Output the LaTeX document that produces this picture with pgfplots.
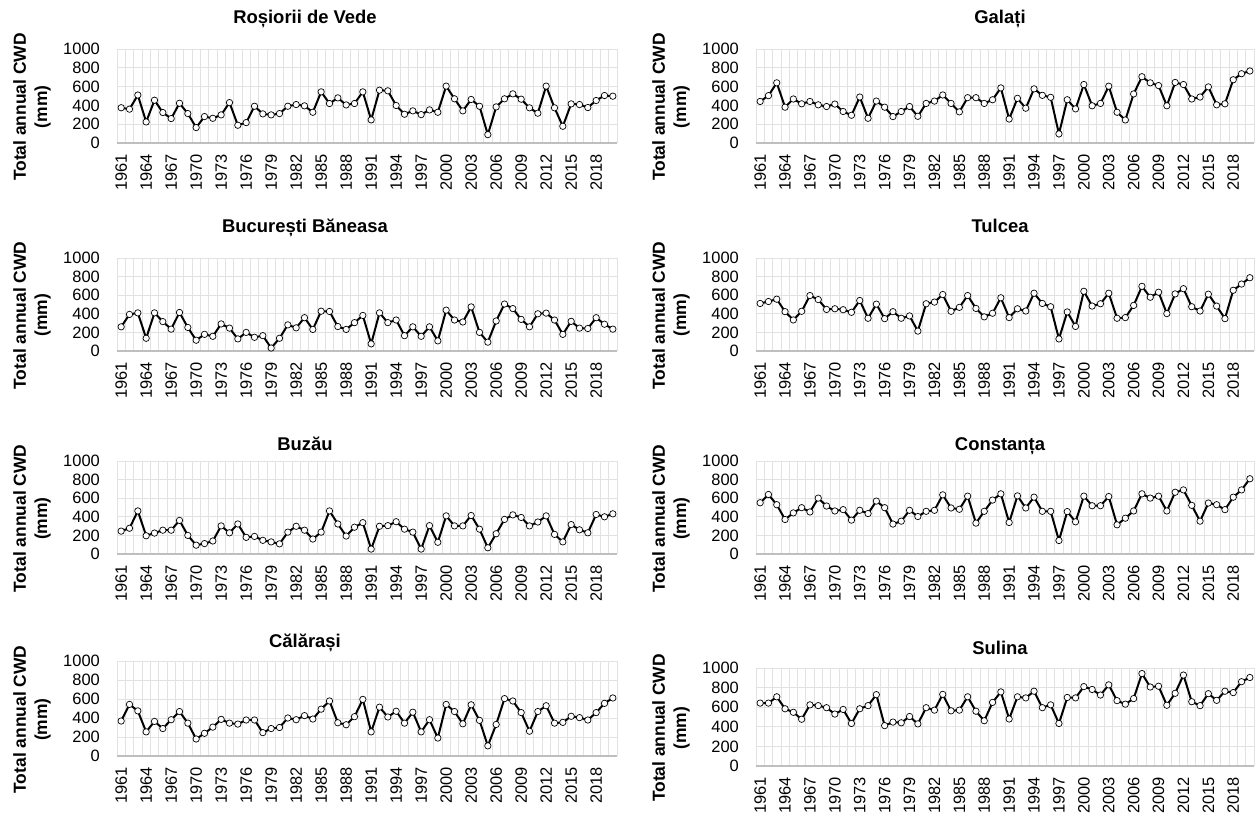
\documentclass[border=0pt]{standalone}
\usepackage{pgfplots}
\pgfplotsset{compat=1.18}
\usepackage{pgfplotstable}
\usepackage{fontspec}
\setmainfont{Liberation Sans}
\definecolor{gridc}{HTML}{E2E2E2}
\definecolor{axisc}{HTML}{BFBFBF}

\pgfplotstableread{
year R G B T Bz C Ca S
1961 375 442 260 511 246 551 368 642
1962 360 504 393 532 277 640 543 642
1963 510 640 410 557 463 530 475 706
1964 224 381 137 423 196 371 254 584
1965 455 468 410 334 225 442 364 548
1966 324 417 316 427 256 498 289 477
1967 260 442 235 596 256 452 382 624
1968 423 406 414 553 361 601 468 616
1969 313 388 253 447 200 516 346 595
1970 164 414 116 454 95 463 179 530
1971 281 335 179 444 112 477 239 577
1972 263 295 158 416 140 364 304 434
1973 299 489 291 543 302 470 386 584
1974 430 263 246 352 228 435 346 616
1975 189 446 130 504 323 569 336 728
1976 217 381 200 348 179 498 379 412
1977 391 281 147 423 189 322 379 448
1978 310 335 165 352 147 353 246 441
1979 299 388 32 377 130 470 289 505
1980 313 284 137 214 109 403 300 430
1981 391 421 281 508 235 459 400 595
1982 409 446 249 526 298 470 382 570
1983 395 511 358 607 256 636 425 731
1984 327 421 232 427 161 495 389 563
1985 544 331 428 469 235 481 493 570
1986 420 482 425 596 463 622 579 706
1987 480 482 263 458 323 332 350 559
1988 405 421 232 367 193 459 329 462
1989 420 460 305 406 288 580 414 649
1990 544 586 382 572 337 647 596 756
1991 246 255 77 359 53 339 254 480
1992 562 475 410 454 298 625 514 706
1993 555 370 305 430 305 495 411 695
1994 399 576 333 621 347 611 471 763
1995 306 507 165 511 267 459 346 595
1996 342 486 260 476 235 459 461 624
1997 302 97 158 130 53 145 254 434
1998 352 460 260 420 305 456 382 699
1999 327 363 109 264 126 346 189 695
2000 605 622 439 642 410 622 543 810
2001 470 396 333 483 302 519 468 781
2002 342 421 312 508 302 519 339 724
2003 463 604 474 621 414 618 539 828
2004 391 327 200 352 267 314 375 667
2005 89 245 95 359 67 385 107 631
2006 384 522 323 490 218 463 332 688
2007 470 705 505 695 372 647 604 943
2008 523 640 456 578 421 601 579 806
2009 466 611 340 632 393 622 457 814
2010 374 396 260 402 302 463 261 620
2011 317 644 400 614 344 664 468 742
2012 605 622 407 670 410 689 529 928
2013 374 468 333 476 211 523 346 656
2014 178 489 179 430 130 353 354 616
2015 416 597 319 611 316 548 418 738
2016 409 406 246 483 260 530 404 670
2017 377 417 242 348 228 477 379 763
2018 452 673 358 653 425 611 457 749
2019 505 737 288 720 400 689 554 860
2020 498 766 235 788 432 809 611 903
}\data

\pgfplotsset{
  /pgf/number format/1000 sep={},
  /pgf/number format/assume math mode=true,
  panel/.style={
    scale only axis,
    xmin=1960.5, xmax=2020.5, ymin=0, ymax=1000,
    xtick={1961,1964,...,2018},
    ytick={0,200,...,1000},
    minor xtick={1960.5,1961.5,...,2020.5},
    xminorgrids=true, ymajorgrids=true, xmajorgrids=false,
    grid style={draw=gridc, line width=0.8bp},
    minor grid style={draw=gridc, line width=0.8bp},
    major tick length=0pt, minor tick length=0pt,
    axis x line=bottom, axis y line=left,
    x axis line style={draw=axisc, line width=1.3bp, -},
    y axis line style={draw=none, -},
    xticklabel style={rotate=90, anchor=east, inner xsep=11bp, inner ysep=0pt,
      font=\fontsize{16.5}{17}\selectfont},
    yticklabel style={anchor=east, inner sep=0pt, xshift=-17bp,
      font=\fontsize{16.5}{17}\selectfont},
    ylabel={Total annual CWD\\(mm)},
    ylabel style={at={([xshift=-85bp,yshift=-11bp]axis description cs:0,0.5)},
      anchor=center, align=center,
      font=\bfseries\fontsize{17.5}{21.5}\selectfont},
    clip=false,
  },
  ser/.style={black, line width=2bp, mark=*, mark size=3.2bp,
    mark options={fill=white, draw=black, line width=0.7bp, solid}},
}

\begin{document}
\begin{tikzpicture}
\path[use as bounding box] (0,0) rectangle (1257bp,813bp);

% Row 1
\begin{axis}[panel, at={(117bp,764bp)}, anchor=north west, width=500bp, height=94bp]
\addplot[ser] table[x=year, y=R] {\data};
\end{axis}
\begin{axis}[panel, at={(756bp,764bp)}, anchor=north west, width=498bp, height=94bp]
\addplot[ser] table[x=year, y=G] {\data};
\end{axis}

% Row 2
\begin{axis}[panel, at={(117bp,555bp)}, anchor=north west, width=500bp, height=93bp]
\addplot[ser] table[x=year, y=B] {\data};
\end{axis}
\begin{axis}[panel, at={(756bp,555bp)}, anchor=north west, width=498bp, height=93bp]
\addplot[ser] table[x=year, y=T] {\data};
\end{axis}

% Row 3
\begin{axis}[panel, at={(117bp,352bp)}, anchor=north west, width=500bp, height=93bp]
\addplot[ser] table[x=year, y=Bz] {\data};
\end{axis}
\begin{axis}[panel, at={(756bp,352bp)}, anchor=north west, width=498bp, height=93bp]
\addplot[ser] table[x=year, y=C] {\data};
\end{axis}

% Row 4
\begin{axis}[panel, at={(117bp,152bp)}, anchor=north west, width=500bp, height=95bp]
\addplot[ser] table[x=year, y=Ca] {\data};
\end{axis}
\begin{axis}[panel, at={(756bp,145bp)}, anchor=north west, width=498bp, height=98bp]
\addplot[ser] table[x=year, y=S] {\data};
\end{axis}

% Titles
\begin{scope}[every node/.style={font=\bfseries\fontsize{18.5}{20}\selectfont, anchor=base, inner sep=0pt}]
\node at (305bp,789bp) {Roșiorii de Vede};
\node at (1000bp,789bp) {Galați};
\node at (305bp,580bp) {București Băneasa};
\node at (1000bp,580bp) {Tulcea};
\node at (305bp,362bp) {Buzău};
\node at (1000bp,362bp) {Constanța};
\node at (305bp,165bp) {Călărași};
\node at (1000bp,158bp) {Sulina};
\end{scope}
\end{tikzpicture}
\end{document}
